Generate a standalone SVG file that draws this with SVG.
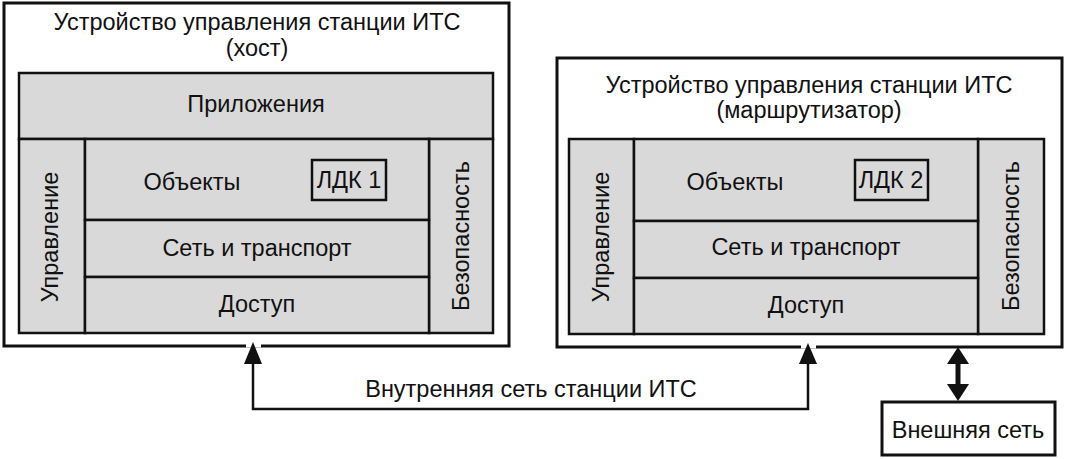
<svg xmlns="http://www.w3.org/2000/svg" width="1066" height="459" viewBox="0 0 1066 459">
<style>
.outer{fill:#fff;stroke:#111;stroke-width:3}
.cell{fill:#d9d9d9;stroke:#111;stroke-width:2.5}
.ldk{fill:#d9d9d9;stroke:#111;stroke-width:2.5}
.t{font-family:"Liberation Sans",Arial,sans-serif;font-size:23.5px;fill:#111;text-anchor:middle}
.line{fill:none;stroke:#111;stroke-width:2.5}
.gap{stroke:#fff;stroke-width:5}
</style>
<rect width="1066" height="459" fill="#fff"/>

<g id="host">
<rect class="outer" x="4" y="3" width="505" height="343"/>
<text class="t" x="257" y="30">Устройство управления станции ИТС</text>
<text class="t" x="257" y="56">(хост)</text>
<g id="host-apps"><rect class="cell" x="19" y="73" width="474" height="66"/><text class="t" x="256" y="112">Приложения</text></g>
<g id="host-mgmt"><rect class="cell" x="19" y="139" width="66" height="194"/><text class="t" transform="translate(58,237) rotate(-90)">Управление</text></g>
<g id="host-sec"><rect class="cell" x="429" y="139" width="64" height="194"/><text class="t" transform="translate(469,236) rotate(-90)">Безопасность</text></g>
<g id="host-obj"><rect class="cell" x="85" y="139" width="344" height="81"/><text class="t" x="192" y="190">Объекты</text></g>
<g id="host-ldk"><rect class="ldk" x="312" y="160" width="74" height="40"/><text class="t" x="349" y="188">ЛДК 1</text></g>
<g id="host-net"><rect class="cell" x="85" y="220" width="344" height="57"/><text class="t" x="257" y="256">Сеть и транспорт</text></g>
<g id="host-acc"><rect class="cell" x="85" y="277" width="344" height="56"/><text class="t" x="257" y="312">Доступ</text></g>
</g>

<g id="router">
<rect class="outer" x="557" y="58" width="505" height="289"/>
<text class="t" x="809" y="93">Устройство управления станции ИТС</text>
<text class="t" x="809" y="118">(маршрутизатор)</text>
<g id="router-mgmt"><rect class="cell" x="569" y="139" width="65" height="195"/><text class="t" transform="translate(609,237) rotate(-90)">Управление</text></g>
<g id="router-sec"><rect class="cell" x="978" y="139" width="66" height="195"/><text class="t" transform="translate(1019,236) rotate(-90)">Безопасность</text></g>
<g id="router-obj"><rect class="cell" x="634" y="139" width="344" height="82"/><text class="t" x="735" y="190">Объекты</text></g>
<g id="router-ldk"><rect class="ldk" x="855" y="160" width="73" height="40"/><text class="t" x="891" y="188">ЛДК 2</text></g>
<g id="router-net"><rect class="cell" x="634" y="221" width="344" height="57"/><text class="t" x="806" y="255">Сеть и транспорт</text></g>
<g id="router-acc"><rect class="cell" x="634" y="278" width="344" height="56"/><text class="t" x="806" y="313">Доступ</text></g>
</g>

<g id="external">
<rect class="outer" x="882" y="402" width="173" height="53"/>
<text class="t" x="968" y="438">Внешняя сеть</text>
</g>

<g id="connectors">
<line class="gap" x1="246" y1="345" x2="261" y2="345"/>
<line class="gap" x1="801" y1="346" x2="816" y2="346"/>
<path class="line" d="M253,364 L253,409 L808,409 L808,364"/>
<path d="M253,342 L244,364 L262,364 z" fill="#111"/>
<path d="M808,343 L799,364 L817,364 z" fill="#111"/>
<text class="t" x="531" y="397">Внутренняя сеть станции ИТС</text>
<line x1="958" y1="362" x2="958" y2="386" stroke="#111" stroke-width="5"/>
<path d="M958,347 L947,364 L969,364 z" fill="#111"/>
<path d="M958,401 L947,384 L969,384 z" fill="#111"/>
</g>
</svg>
